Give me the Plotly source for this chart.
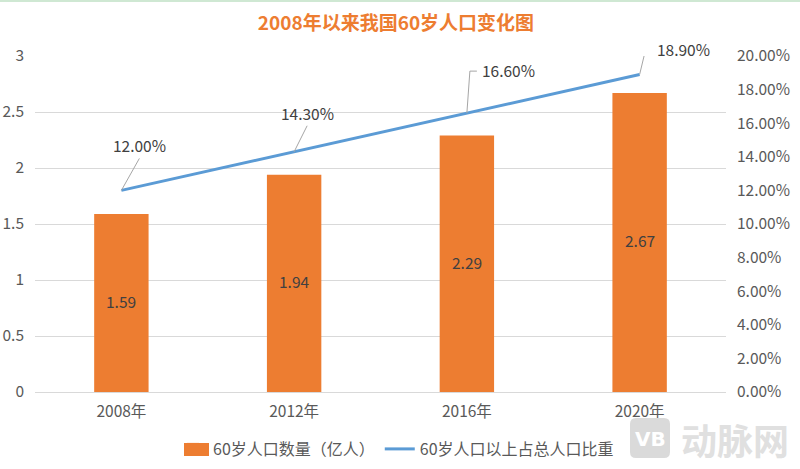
import plotly.graph_objects as go

# Dados do gráfico
anos = ["2008年", "2012年", "2016年", "2020年"]
populacao = [1.59, 1.94, 2.29, 2.67]
proporcao = [0.12, 0.143, 0.166, 0.189]
nome_barras = "60岁人口数量（亿人）"
nome_linha = "60岁人口以上占总人口比重"
titulo = "2008年以来我国60岁人口变化图"

# Caminho da linha guia de cada rótulo, em pixels a partir do ponto
guias = ["M0,0 L18,32", "M0,0 L13,26", "M0,0 L3,42 L10,42", "M0,0 L6,25 L12,25"]
deslocamentos = [(18, -45, "center"), (13, -39, "center"), (13, -43, "left"), (15, -25, "left")]

FONTE = "Noto Sans CJK SC"
W, H = 800, 469
ML, MR, MT, MB = 35, 74, 56, 77


def px_x(x):
    return (x - ML) / (W - ML - MR)


def px_y(y):
    return (H - MB - y) / (H - MT - MB)


fig = go.Figure()

fig.add_trace(go.Bar(
    x=anos, y=populacao, name=nome_barras, width=0.315,
    marker=dict(color="#ED7D31", line_width=0),
))
fig.add_trace(go.Scatter(
    x=anos, y=proporcao, name=nome_linha, mode="lines", yaxis="y2",
    line=dict(color="#5B9BD5", width=3),
))

# Rótulos das barras, no meio de cada barra
for ano, valor in zip(anos, populacao):
    fig.add_annotation(
        x=ano, y=valor / 2, xref="x", yref="y", text=f"{valor:.2f}", showarrow=False,
        yshift=2, xanchor="center", yanchor="middle",
        font=dict(color="#404040", size=15.5, family=FONTE),
    )

# Rótulos da linha com guias
for ano, valor, guia, (dx, dy, anchor) in zip(anos, proporcao, guias, deslocamentos):
    fig.add_shape(
        type="path", path=guia, xref="x", yref="y2",
        xsizemode="pixel", ysizemode="pixel", xanchor=ano, yanchor=valor,
        line=dict(color="#A6A6A6", width=1),
    )
    fig.add_annotation(
        x=ano, y=valor, xref="x", yref="y2", text=f"{valor * 100:.2f}%", showarrow=False,
        xshift=dx, yshift=-dy, xanchor=anchor, yanchor="middle",
        font=dict(color="#404040", size=15.5, family=FONTE),
    )

# Faixa verde do topo
fig.add_shape(type="rect", xref="paper", yref="paper", x0=px_x(0), x1=px_x(W),
              y0=px_y(2), y1=px_y(0), fillcolor="#CFE8D3", line_width=0)

# Amostra larga da legenda, por cima da amostra pequena do plotly
fig.add_shape(type="rect", xref="paper", yref="paper", x0=px_x(184), x1=px_x(209),
              y0=px_y(456), y1=px_y(443), fillcolor="#ED7D31", line_width=0)

# Marca d'água
fig.add_shape(
    type="path", xref="paper", yref="paper", xsizemode="pixel", ysizemode="pixel",
    xanchor=px_x(630), yanchor=px_y(458),
    path="M6,0 L34,0 Q40,0 40,6 L40,34 Q40,40 34,40 L6,40 Q0,40 0,34 L0,6 Q0,0 6,0 Z",
    fillcolor="#DADADA", line_width=0,
)
fig.add_annotation(x=px_x(650), y=px_y(439), xref="paper", yref="paper", text="<b>VB</b>",
                   xanchor="center", yanchor="middle", showarrow=False,
                   font=dict(color="#FFFFFF", size=20, family="DejaVu Sans"))
fig.add_annotation(x=px_x(735), y=px_y(439), xref="paper", yref="paper", text="<b>动脉网</b>",
                   xanchor="center", yanchor="middle", showarrow=False,
                   font=dict(color="#E0E0E0", size=36, family=FONTE))

fig.update_layout(
    width=W, height=H, margin=dict(l=ML, r=MR, t=MT, b=MB),
    paper_bgcolor="white", plot_bgcolor="white", showlegend=True,
    font=dict(family=FONTE, color="#595959", size=15.5),
    title=dict(text=f"<b>{titulo}</b>", x=396 / W, xanchor="center", y=1 - 23 / H, yanchor="middle",
               font=dict(color="#ED7D31", size=19, family=FONTE)),
    legend=dict(orientation="h", x=396 / W, xref="container", xanchor="center", y=1 - 449 / H,
                yref="container", yanchor="middle", font=dict(size=16, color="#595959"),
                bgcolor="rgba(0,0,0,0)"),
    xaxis=dict(type="category", showgrid=False, showline=True, linecolor="#D9D9D9", automargin=False,
               ticks="", ticklabelstandoff=5, tickfont=dict(size=15.5, color="#595959")),
    yaxis=dict(range=[0, 3], dtick=0.5, showgrid=True, gridcolor="#D9D9D9", zeroline=False,
               automargin=False, ticks="", ticklabelstandoff=10,
               tickfont=dict(size=15.5, color="#595959")),
    yaxis2=dict(range=[0, 0.2], dtick=0.02, overlaying="y", side="right", tickformat=".2%",
                showgrid=False, zeroline=False, automargin=False, ticks="", ticklabelstandoff=10,
                tickfont=dict(size=15.5, color="#595959")),
)

fig.write_html("out.html", config={"displayModeBar": False},
               post_script="document.body.style.margin = '0';")
